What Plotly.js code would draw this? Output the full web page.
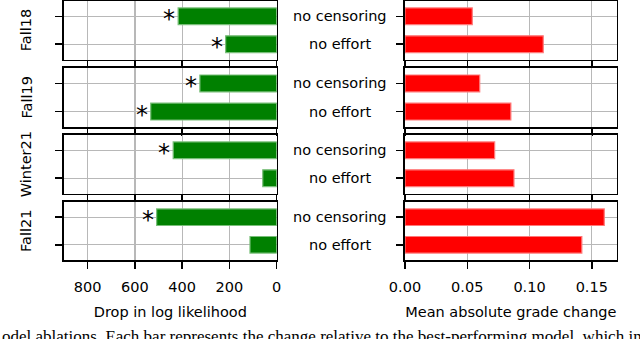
<!DOCTYPE html>
<html>
<head>
<meta charset="utf-8">
<script src="https://cdn.plot.ly/plotly-3.0.1.min.js"></script>
<style>
  html, body { margin: 0; padding: 0; background: #fff; }
  #chart { width: 640px; height: 339px; }
</style>
</head>
<body>
<div id="chart"></div>
<script>
// values
const terms = ["Fall18", "Fall19", "Winter21", "Fall21"];
const ablations = ["no censoring", "no effort"];
const llDropNoCensoring = [417, 325, 438, 508];
const llDropNoEffort = [216, 533, 59, 113];
const gradeChangeNoCensoring = [0.054, 0.060, 0.072, 0.160];
const gradeChangeNoEffort = [0.111, 0.085, 0.0875, 0.142];
const starNoCensoring = [true, true, true, true];
const starNoEffort = [true, true, false, false];
const llTicks = [0, 200, 400, 600, 800];
const gradeTicks = [0, 0.05, 0.10, 0.15];
const gradeTickText = ["0.00", "0.05", "0.10", "0.15"];
const caption = "odel ablations. Each bar represents the change relative to the best-performing model, which in";

const W = 640, H = 339;
const FONT = "DejaVu Sans, sans-serif";
const FS = 14.5;
// panel rows in pixels (top, bottom)
const rows = [[1, 59.5], [68, 127], [135, 193.5], [202, 260]];
const leftDom = [64 / W, 276.7 / W];
const rightDom = [405 / W, 616.7 / W];
const py = (p) => 1 - p / H;

const data = [];
const annotations = [];
const layout = {
  width: W,
  height: H,
  margin: { l: 0, r: 0, t: 0, b: 0 },
  paper_bgcolor: "#fff",
  plot_bgcolor: "#fff",
  showlegend: false,
  font: { family: FONT, size: FS, color: "#000" },
  bargap: 0,
};

const axisCommon = {
  showline: true,
  mirror: true,
  linecolor: "#000",
  linewidth: 1.6,
  ticks: "outside",
  ticklen: 7,
  tickwidth: 1.5,
  tickcolor: "#000",
  showgrid: true,
  gridcolor: "#b8b8b8",
  gridwidth: 1.3,
  zeroline: false,
  fixedrange: true,
  ticklabelstandoff: 6,
  tickfont: { family: FONT, size: FS, color: "#000" },
};

terms.forEach((term, i) => {
  const l = 2 * i + 1;
  const r = 2 * i + 2;
  const yDom = [py(rows[i][1]), py(rows[i][0])];
  const last = i === terms.length - 1;

  layout["xaxis" + (l === 1 ? "" : l)] = {
    ...axisCommon,
    domain: leftDom,
    anchor: "y" + (l === 1 ? "" : l),
    range: [900, 0],
    tickvals: llTicks,
    showticklabels: last,
    title: last ? { text: "Drop in log likelihood", font: { size: FS }, standoff: 13 } : undefined,
  };
  layout["yaxis" + (l === 1 ? "" : l)] = {
    ...axisCommon,
    domain: yDom,
    anchor: "x" + (l === 1 ? "" : l),
    type: "category",
    categoryarray: ablations,
    range: [1.55, -0.55],
    showticklabels: false,
  };
  layout["xaxis" + r] = {
    ...axisCommon,
    domain: rightDom,
    anchor: "y" + r,
    range: [0, 0.17],
    tickvals: gradeTicks,
    ticktext: gradeTickText,
    showticklabels: last,
    title: last ? { text: "Mean absolute grade change", font: { size: FS }, standoff: 13 } : undefined,
  };
  layout["yaxis" + r] = {
    ...axisCommon,
    domain: yDom,
    anchor: "x" + r,
    type: "category",
    categoryarray: ablations,
    range: [1.55, -0.55],
    showticklabels: false,
  };

  const xl = "x" + (l === 1 ? "" : l), yl = "y" + (l === 1 ? "" : l);
  data.push({
    type: "bar",
    orientation: "h",
    x: [llDropNoCensoring[i], llDropNoEffort[i]],
    y: ablations,
    width: 0.6,
    xaxis: xl,
    yaxis: yl,
    marker: { color: "#008000", line: { color: "rgba(120,190,120,1)", width: 1.2 } },
    hoverinfo: "skip",
  });
  data.push({
    type: "bar",
    orientation: "h",
    x: [gradeChangeNoCensoring[i], gradeChangeNoEffort[i]],
    y: ablations,
    width: 0.6,
    xaxis: "x" + r,
    yaxis: "y" + r,
    marker: { color: "#ff0000", line: { color: "rgba(255,120,120,1)", width: 1.2 } },
    hoverinfo: "skip",
  });

  // significance stars
  [starNoCensoring[i], starNoEffort[i]].forEach((s, j) => {
    if (!s) return;
    const v = j === 0 ? llDropNoCensoring[i] : llDropNoEffort[i];
    annotations.push({
      xref: xl, yref: yl,
      x: v, y: ablations[j],
      xanchor: "right", yanchor: "middle",
      xshift: -1, yshift: -3,
      text: "*",
      showarrow: false,
      font: { family: FONT, size: 24, color: "#000" },
    });
  });

  // ablation labels between the columns
  ablations.forEach((a) => {
    annotations.push({
      xref: "paper", yref: "y" + r,
      x: 340 / W, y: a,
      xanchor: "center", yanchor: "middle",
      text: a,
      showarrow: false,
      font: { family: FONT, size: FS, color: "#000" },
    });
  });

  // term label rotated on the left
  annotations.push({
    xref: "paper", yref: "paper",
    x: 26 / W, y: (yDom[0] + yDom[1]) / 2,
    xanchor: "center", yanchor: "middle",
    text: term,
    textangle: -90,
    showarrow: false,
    font: { family: FONT, size: FS, color: "#000" },
  });
});

// caption fragment from the page below the figure
annotations.push({
  xref: "paper", yref: "paper",
  x: 0, y: py(325),
  xanchor: "left", yanchor: "top",
  text: caption,
  showarrow: false,
  font: { family: "Liberation Serif, serif", size: 17, color: "#000" },
});

layout.annotations = annotations;

Plotly.newPlot("chart", data, layout, { displayModeBar: false, staticPlot: true });
</script>
</body>
</html>
